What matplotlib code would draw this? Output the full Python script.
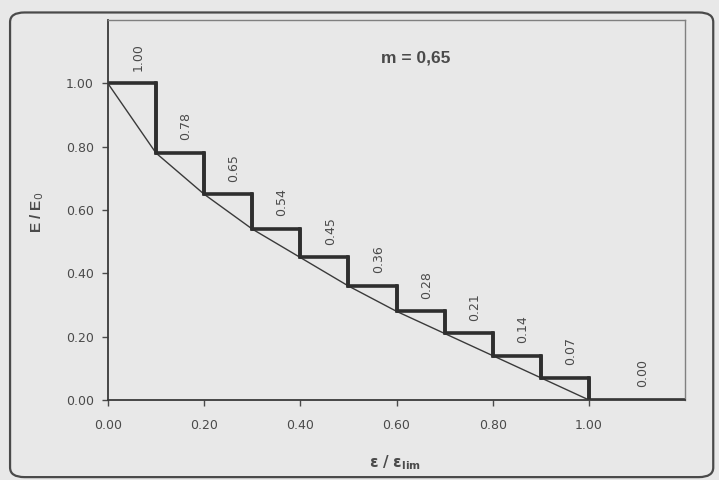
import numpy as np
import matplotlib
matplotlib.use("Agg")
from matplotlib import pyplot as plt
from matplotlib.patches import FancyBboxPatch

# step edges (eps / eps_lim) and E/E0 values
edges = [0.0, 0.1, 0.2, 0.3, 0.4, 0.5, 0.6, 0.7, 0.8, 0.9, 1.0, 1.2]
values = [1.00, 0.78, 0.65, 0.54, 0.45, 0.36, 0.28, 0.21, 0.14, 0.07, 0.00]
labels = ["1.00", "0.78", "0.65", "0.54", "0.45", "0.36", "0.28", "0.21", "0.14", "0.07", "0.00"]
curve_x = [0.0, 0.1, 0.2, 0.3, 0.4, 0.5, 0.6, 0.7, 0.8, 0.9, 1.0]
curve_y = [1.00, 0.78, 0.65, 0.54, 0.45, 0.36, 0.28, 0.21, 0.14, 0.07, 0.00]
ticks = [0.0, 0.2, 0.4, 0.6, 0.8, 1.0]
tick_labels = ["0.00", "0.20", "0.40", "0.60", "0.80", "1.00"]

bg = "#e8e8e8"
ink = "#3a3a3a"
txt = "#4a4a4a"
plt.rcParams["font.family"] = ["DejaVu Sans"]

fig = plt.figure(figsize=(7.19, 4.8), dpi=100, facecolor=bg)

# rounded outer frame
frame = FancyBboxPatch((0.014, 0.006), 0.978, 0.968, transform=fig.transFigure,
                       boxstyle="round,pad=0,rounding_size=0.02",
                       fill=False, edgecolor="#4a4a4a", linewidth=1.6)
fig.patches.append(frame)

ax = fig.add_axes([0.150, 0.1667, 0.803, 0.7916], facecolor=bg)
ax.set_xlim(0, 1.2)
ax.set_ylim(0, 1.2)

# thin curve through the step corners
ax.plot(curve_x, curve_y, color=ink, linewidth=1.0)

# thick step outline
sx = edges
sy = values + [values[-1]]
ax.step(sx, sy, where="post", color="#2e2e2e", linewidth=2.6)
for i in range(len(values) - 1):
    ax.plot([edges[i + 1], edges[i + 1]], [values[i], values[i + 1]],
            color="#2e2e2e", linewidth=2.6)

# value labels above each step
for i, (v, lab) in enumerate(zip(values, labels)):
    xc = (edges[i] + edges[i + 1]) / 2 + 0.012
    ax.text(xc, v + 0.04, lab, rotation=90, ha="center", va="bottom",
            fontsize=9, color=txt)

ax.text(0.64, 1.08, "m = 0,65", ha="center", va="center", fontsize=12.5,
        fontweight="bold", color=txt, family="Liberation Sans")

ax.set_xticks(ticks)
ax.set_xticklabels(tick_labels)
ax.set_yticks(ticks)
ax.set_yticklabels(tick_labels)
ax.tick_params(direction="out", length=4, width=1.0, colors=txt, labelsize=9)
ax.tick_params(axis="x", pad=10)
ax.tick_params(axis="y", pad=6)
for s in ["left", "bottom"]:
    ax.spines[s].set_color(ink)
    ax.spines[s].set_linewidth(1.3)
for s in ["top", "right"]:
    ax.spines[s].set_color("#808080")
    ax.spines[s].set_linewidth(1.0)

fig.text(37 / 719, 1 - 212 / 480, "E / E$_0$", rotation=90, ha="center", va="center",
         fontsize=11, fontweight="bold", color=txt, family="Liberation Sans")
fig.text(395 / 719, 1 - 463 / 480, r"$\mathbf{\epsilon\ /\ \epsilon_{lim}}$",
         ha="center", va="center", fontsize=11, color=txt)

fig.savefig("out.png", dpi=100, facecolor=bg)
